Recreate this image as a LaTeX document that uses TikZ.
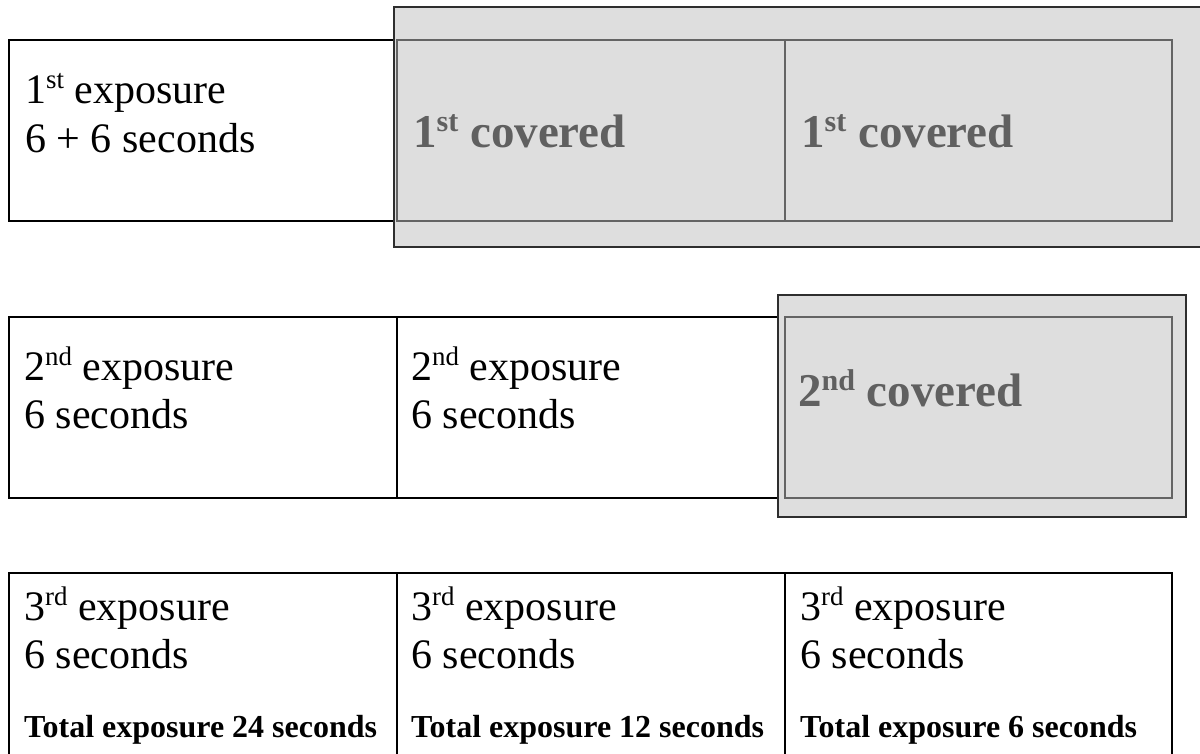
\documentclass[tikz,border=0pt]{standalone}
\usepackage{fontspec}
\usepackage{graphicx}
\setmainfont{Liberation Serif}
\definecolor{coverfill}{HTML}{DEDEDE}
\definecolor{coverline}{HTML}{646464}
\definecolor{coverdark}{HTML}{2E2E2E}
\definecolor{covertext}{HTML}{606060}
\newcommand{\supword}[1]{\raisebox{0.34em}{\scalebox{0.64}{#1}}}
\tikzset{
  wcell/.style={draw=black, line width=1.4pt, fill=white, inner sep=0pt, outer sep=0pt, anchor=north west},
  gcover/.style={draw=coverdark, line width=1.6pt, fill=coverfill, inner sep=0pt, outer sep=0pt, anchor=north west},
  gcell/.style={draw=coverline, line width=1.5pt, inner sep=0pt, outer sep=0pt, anchor=north west},
  reg/.style={anchor=base west, inner sep=0pt, font=\fontsize{42}{48}\selectfont},
  tot/.style={anchor=base west, inner sep=0pt, font=\fontsize{32}{37}\selectfont\bfseries},
  cov/.style={anchor=base west, inner sep=0pt, text=covertext, font=\fontsize{47}{54}\selectfont\bfseries}
}
\begin{document}
\begin{tikzpicture}[x=1pt,y=-1pt]
\useasboundingbox (0,0) rectangle (1200,753);
\clip (0,0) rectangle (1200,753);
% ---- row 1 ----
\node[wcell, minimum width=388pt, minimum height=181pt] (r1a) at (9,40) {};
\node[gcover, minimum width=830pt, minimum height=240pt] (g1) at (394,7) {};
\node[gcell, minimum width=388pt, minimum height=181pt] (r1b) at (397,40) {};
\node[gcell, minimum width=387pt, minimum height=181pt] (r1c) at (785,40) {};
\node[reg] (t1a) at (25,103) {1\supword{st} exposure};
\node[reg] (t1b) at (25,152) {6 + 6 seconds};
\node[cov] (c1b) at (413,147) {1\supword{st} covered};
\node[cov] (c1c) at (801,147) {1\supword{st} covered};
% ---- row 2 ----
\node[wcell, minimum width=388pt, minimum height=181pt] (r2a) at (9,317) {};
\node[wcell, minimum width=388pt, minimum height=181pt] (r2b) at (397,317) {};
\node[gcover, minimum width=408pt, minimum height=222pt] (g2) at (778,295) {};
\node[gcell, minimum width=387pt, minimum height=181pt] (r2c) at (785,317) {};
\node[reg] (t2a) at (24,380) {2\supword{nd} exposure};
\node[reg] (t2b) at (24,428) {6 seconds};
\node[reg] (t2c) at (411,380) {2\supword{nd} exposure};
\node[reg] (t2d) at (411,428) {6 seconds};
\node[cov] (c2c) at (798,406) {2\supword{nd} covered};
% ---- row 3 ----
\node[wcell, minimum width=388pt, minimum height=200pt] (r3a) at (9,573) {};
\node[wcell, minimum width=388pt, minimum height=200pt] (r3b) at (397,573) {};
\node[wcell, minimum width=387pt, minimum height=200pt] (r3c) at (785,573) {};
\node[reg] (t3a) at (24,620) {3\supword{rd} exposure};
\node[reg] (t3b) at (24,668) {6 seconds};
\node[tot] (s3a) at (24,737) {Total exposure 24 seconds};
\node[reg] (t3c) at (411,620) {3\supword{rd} exposure};
\node[reg] (t3d) at (411,668) {6 seconds};
\node[tot] (s3b) at (411,737) {Total exposure 12 seconds};
\node[reg] (t3e) at (800,620) {3\supword{rd} exposure};
\node[reg] (t3f) at (800,668) {6 seconds};
\node[tot] (s3c) at (800,737) {Total exposure 6 seconds};
\end{tikzpicture}
\end{document}
